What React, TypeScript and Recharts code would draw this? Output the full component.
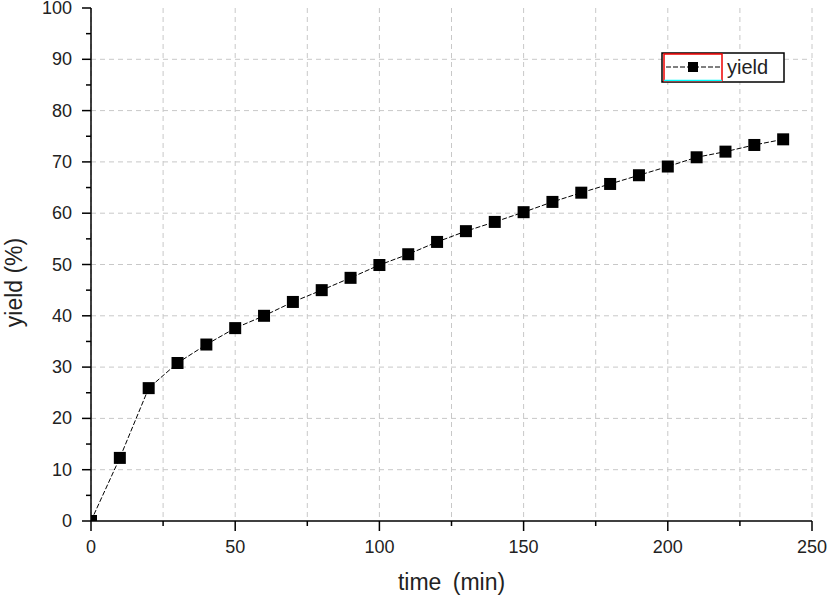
import { CartesianGrid, Line, LineChart, XAxis, YAxis } from 'recharts';

const times = [0, 10, 20, 30, 40, 50, 60, 70, 80, 90, 100, 110, 120, 130, 140, 150, 160, 170, 180, 190, 200, 210, 220, 230, 240];
const yields = [0, 12.3, 25.9, 30.8, 34.4, 37.6, 40.0, 42.7, 45.0, 47.4, 49.9, 52.0, 54.4, 56.5, 58.3, 60.2, 62.2, 64.0, 65.7, 67.4, 69.1, 70.9, 72.0, 73.3, 74.4];
const xTicks = [0, 25, 50, 75, 100, 125, 150, 175, 200, 225, 250];
const yTicks = [0, 5, 10, 15, 20, 25, 30, 35, 40, 45, 50, 55, 60, 65, 70, 75, 80, 85, 90, 95, 100];
const yGrid = [10, 20, 30, 40, 50, 60, 70, 80, 90];

const FONT = '"Liberation Sans", Arial, sans-serif';

const chartData = times.map((t, i) => ({ time: t, yield: yields[i] }));

// bottom axis ticks: long ones with labels every 50, short ones between
const XTick = ({ x, y, payload }) => {
  const major = payload.value % 50 === 0;
  return (
    <g>
      <line x1={x} y1={y} x2={x} y2={y + (major ? 10 : 5)} stroke="#000" strokeWidth={1.5} />
      {major && (
        <text x={x} y={y + 32} textAnchor="middle" fill="#222" fontSize={18} fontFamily={FONT}>
          {payload.value}
        </text>
      )}
    </g>
  );
};

const YTick = ({ x, y, payload }) => {
  const major = payload.value % 10 === 0;
  return (
    <g>
      <line x1={x - (major ? 9 : 5)} y1={y} x2={x} y2={y} stroke="#000" strokeWidth={1.5} />
      {major && (
        <text x={x - 19} y={y + 6} textAnchor="end" fill="#222" fontSize={18} fontFamily={FONT}>
          {payload.value}
        </text>
      )}
    </g>
  );
};

const SquareDot = ({ cx, cy, index }) => (
  <rect key={`d-${index}`} x={cx - 6} y={cy - 6} width={12} height={12} fill="#000" />
);

const LegendBox = () => (
  <svg width={124} height={31} style={{ display: 'block' }}>
    <rect x={1} y={1} width={122} height={29} fill="#fff" stroke="#000" strokeWidth={1.5} />
    <rect x={3} y={2} width={58} height={27} fill="none" stroke="#e00" strokeWidth={1.5} />
    <line x1={3} y1={28.5} x2={61} y2={28.5} stroke="#0ff" strokeWidth={1.5} />
    <line x1={5} y1={15} x2={59} y2={15} stroke="#000" strokeWidth={1} strokeDasharray="5 2" />
    <rect x={27} y={10} width={10} height={10} fill="#000" />
    <text x={66} y={22} fontSize={20} fill="#222" fontFamily={FONT}>
      yield
    </text>
  </svg>
);

export default function App() {
  return (
    <div style={{ position: 'relative', width: 827, height: 597, background: '#fff' }}>
      <style>{'body{margin:0}'}</style>
      <LineChart
        width={827}
        height={597}
        data={chartData}
        margin={{ top: 8, right: 15, left: 0, bottom: 0 }}
      >
        <CartesianGrid
          stroke="#c8c8c8"
          strokeDasharray="5 4"
          horizontalValues={yGrid}
        />
        <XAxis
          dataKey="time"
          type="number"
          domain={[0, 250]}
          ticks={xTicks}
          interval={0}
          allowDataOverflow
          height={76}
          tickSize={0}
          tickMargin={0}
          tickLine={false}
          axisLine={{ stroke: '#000', strokeWidth: 1.5 }}
          tick={(p) => <XTick {...p} />}
          label={({ viewBox }) => (
            <text
              x={viewBox.x + viewBox.width / 2}
              y={590}
              textAnchor="middle"
              fontSize={23}
              fill="#222"
              wordSpacing={5}
              fontFamily={FONT}
            >
              time (min)
            </text>
          )}
        />
        <XAxis xAxisId="top" orientation="top" type="number" domain={[0, 250]} height={0} tick={false} tickLine={false} axisLine={{ stroke: '#000', strokeWidth: 1.5 }} />
        <YAxis
          type="number"
          domain={[0, 100]}
          ticks={yTicks}
          interval={0}
          allowDataOverflow
          width={91}
          tickSize={0}
          tickMargin={0}
          tickLine={false}
          axisLine={{ stroke: '#000', strokeWidth: 1.5 }}
          tick={(p) => <YTick {...p} />}
          label={({ viewBox }) => {
            const cy = viewBox.y + viewBox.height / 2 + 18;
            return (
              <text
                x={22}
                y={cy}
                transform={`rotate(-90, 22, ${cy})`}
                textAnchor="middle"
                fontSize={23}
                fill="#222"
                fontFamily={FONT}
              >
                yield (%)
              </text>
            );
          }}
        />
        <YAxis yAxisId="right" orientation="right" type="number" domain={[0, 100]} width={0} tick={false} tickLine={false} axisLine={{ stroke: '#000', strokeWidth: 1.5 }} />
        <Line
          dataKey="yield"
          stroke="#000"
          strokeWidth={1}
          strokeDasharray="5 2"
          dot={(p) => <SquareDot {...p} />}
          activeDot={false}
          isAnimationActive={false}
        />
      </LineChart>
      <div style={{ position: 'absolute', left: 661, top: 52 }}>
        <LegendBox />
      </div>
    </div>
  );
}
